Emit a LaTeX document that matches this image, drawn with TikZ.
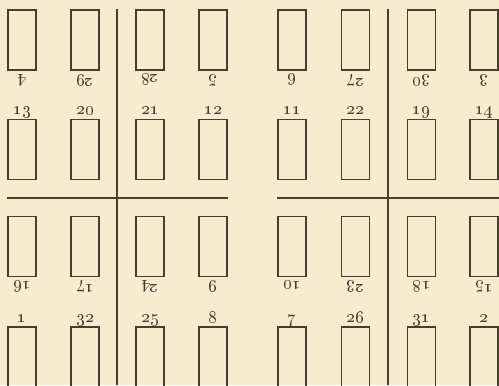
\documentclass[tikz,border=0pt]{standalone}
\usepackage{tikz}
\usetikzlibrary{positioning}
\definecolor{mypaper}{RGB}{246,236,206}
\definecolor{myink}{RGB}{72,62,46}
\tikzset{
  pagebox/.style={draw=myink, line width=1.1pt, minimum width=0.56cm,
    minimum height=1.2cm, inner sep=0pt},
  folio/.style={font=\normalsize\bfseries, color=myink, inner sep=1pt,
    outer sep=1.2pt, text depth=0pt},
  foliodown/.style={folio, text depth={}, rotate=180, anchor=south}
}
\tikzset{cutline/.style={myink, line width=1.5pt}}

\begin{document}
\begin{tikzpicture}[x=0.02cm, y=-0.02cm]
    % Paper
    \useasboundingbox (0,0) rectangle (499,385);
    \fill[mypaper] (0,0) rectangle (499,385);
    \clip (0,0) rectangle (499,385);

    % Folds between the four quarters of each sheet
    \draw[cutline] (117,9) -- (117,385);
    \draw[cutline] (388,9) -- (388,385);
    \draw[cutline] (7,198) -- (228,198);
    \draw[cutline] (277,198) -- (499,198);

    % Pages: head-down rows carry their folio below, upright rows above
    \foreach \x/\a/\b/\c/\d in {22/4/13/16/1, 85/29/20/17/32, 150/28/21/24/25,
        213/5/12/9/8, 292/6/11/10/7, 355.5/27/22/23/26, 421.5/30/19/18/31,
        484/3/14/15/2} {
      \node[pagebox] (p\a) at (\x,40) {};
      \node[foliodown] at (p\a.south) {\oldstylenums{\a}};
      \node[pagebox] (p\b) at (\x,149.5) {};
      \node[folio, above=0pt of p\b] {\oldstylenums{\b}};
      \node[pagebox] (p\c) at (\x,246.5) {};
      \node[foliodown] at (p\c.south) {\oldstylenums{\c}};
      \node[pagebox] (p\d) at (\x,357) {};
      \node[folio, above=0pt of p\d] {\oldstylenums{\d}};
    }
  \end{tikzpicture}
\end{document}
